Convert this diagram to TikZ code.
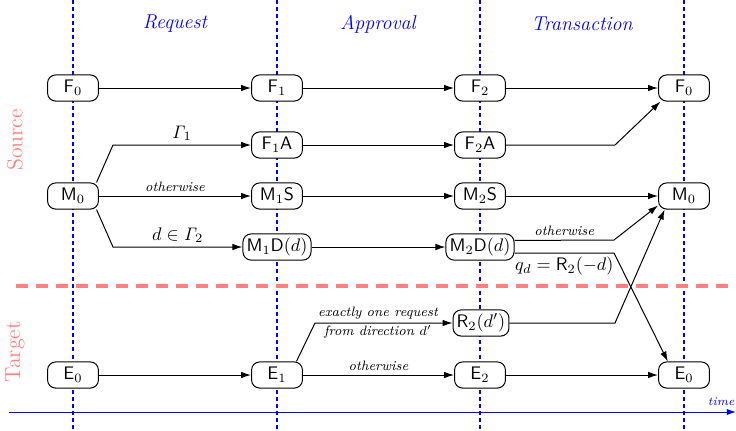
\documentclass[tikz,border=0pt]{standalone}
\usetikzlibrary{arrows.meta}
\begin{document}
\begin{tikzpicture}[x=0.55pt,y=-0.55pt,
  st/.style={draw,fill=white,rounded corners=4.5pt,minimum width=28pt,minimum height=14.4pt,inner sep=2pt,line width=0.55pt},
  conn/.style={draw,line width=0.55pt,-{Latex[length=5.5pt,width=3.6pt]}},
  lab/.style={font=\fontsize{7.5}{8.5}\selectfont\itshape,inner sep=2pt},
  col/.style={blue,dash pattern=on 2.2pt off 1.7pt,line width=0.6pt},
  hdr/.style={blue,font=\fontsize{11}{13}\selectfont\itshape},
  side/.style={red!50,font=\large,rotate=90}]
\useasboundingbox (0,0) rectangle (736,430);
% column lines
\foreach \x in {73,277,480,684} \draw[col] (\x,0) -- (\x,430);
% separator
\draw[red!50,line width=2.2pt,dash pattern=on 6.6pt off 4.4pt] (16,286) -- (736,286);
% time axis
\draw[blue,line width=0.55pt,-{Latex[length=5pt,width=3.4pt]}] (9,412) -- (736,412);
\node[blue,font=\fontsize{6.5}{7}\selectfont\itshape,anchor=east,inner sep=0pt] (time) at (735,402) {time};
% headers
\node[hdr] (hreq) at (175,24) {Request};
\node[hdr] (happ) at (378,24) {Approval};
\node[hdr] (htra) at (582,24) {Transaction};
\node[side] (src) at (15,140) {Source};
\node[side] (tgt) at (15,352) {Target};
% nodes
\node[st] (F0) at (73,88) {$\mathsf{F}_0$};
\node[st] (F1) at (277,88) {$\mathsf{F}_1$};
\node[st] (F2) at (480,88) {$\mathsf{F}_2$};
\node[st] (F3) at (684,88) {$\mathsf{F}_0$};
\node[st] (F1A) at (277,145) {$\mathsf{F}_1\mathsf{A}$};
\node[st] (F2A) at (480,145) {$\mathsf{F}_2\mathsf{A}$};
\node[st] (M0) at (73,196) {$\mathsf{M}_0$};
\node[st] (M1S) at (277,196) {$\mathsf{M}_1\mathsf{S}$};
\node[st] (M2S) at (480,196) {$\mathsf{M}_2\mathsf{S}$};
\node[st] (M3) at (684,196) {$\mathsf{M}_0$};
\node[st] (M1D) at (277,247) {$\mathsf{M}_1\mathsf{D}(d)$};
\node[st] (M2D) at (480,247) {$\mathsf{M}_2\mathsf{D}(d)$};
\node[st] (R2) at (481,323) {$\mathsf{R}_2(d')$};
\node[st] (E0) at (73,375) {$\mathsf{E}_0$};
\node[st] (E1) at (277,375) {$\mathsf{E}_1$};
\node[st] (E2) at (480,375) {$\mathsf{E}_2$};
\node[st] (E3) at (684,375) {$\mathsf{E}_0$};
% connectors
\draw[conn] (F0) -- (F1);
\draw[conn] (F1) -- (F2);
\draw[conn] (F2) -- (F3);
\draw[conn] (M0.30) -- (113,145) -- node[above,inner sep=2pt] {$\mathit{\Gamma}_1$} (F1A);
\draw[conn] (M0) -- node[lab,above] {otherwise} (M1S);
\draw[conn] (M0.-30) -- (113,247) -- node[above,inner sep=2pt] {$d\in\mathit{\Gamma}_2$} (M1D);
\draw[conn] (F1A) -- (F2A);
\draw[conn] (F2A) -- (615,145) -- (F3.210);
\draw[conn] (M1S) -- (M2S);
\draw[conn] (M2S) -- (M3);
\draw[conn] (M1D) -- (M2D);
\draw[conn] ([yshift=3.6pt]M2D.east) -- node[lab,above] {otherwise} (614,240) -- (M3.200);
\draw[conn] ([yshift=-3.4pt]M2D.east) -- node[below,inner sep=2pt] {$q_d=\mathsf{R}_2(-d)$} (614,253) -- (E3.140);
\draw[conn] (R2) -- (615,323) -- (M3.215);
\draw[conn] (E0) -- (E1);
\draw[conn] (E1) -- node[lab,above] {otherwise} (E2);
\draw[conn] (E1.35) -- (315,323) -- (R2);
\node[lab] (l1) at (378,313) {exactly one request};
\node[lab] (l2) at (378,332) {from direction $d'$};
\draw[conn] (E2) -- (E3);
\end{tikzpicture}
\end{document}
